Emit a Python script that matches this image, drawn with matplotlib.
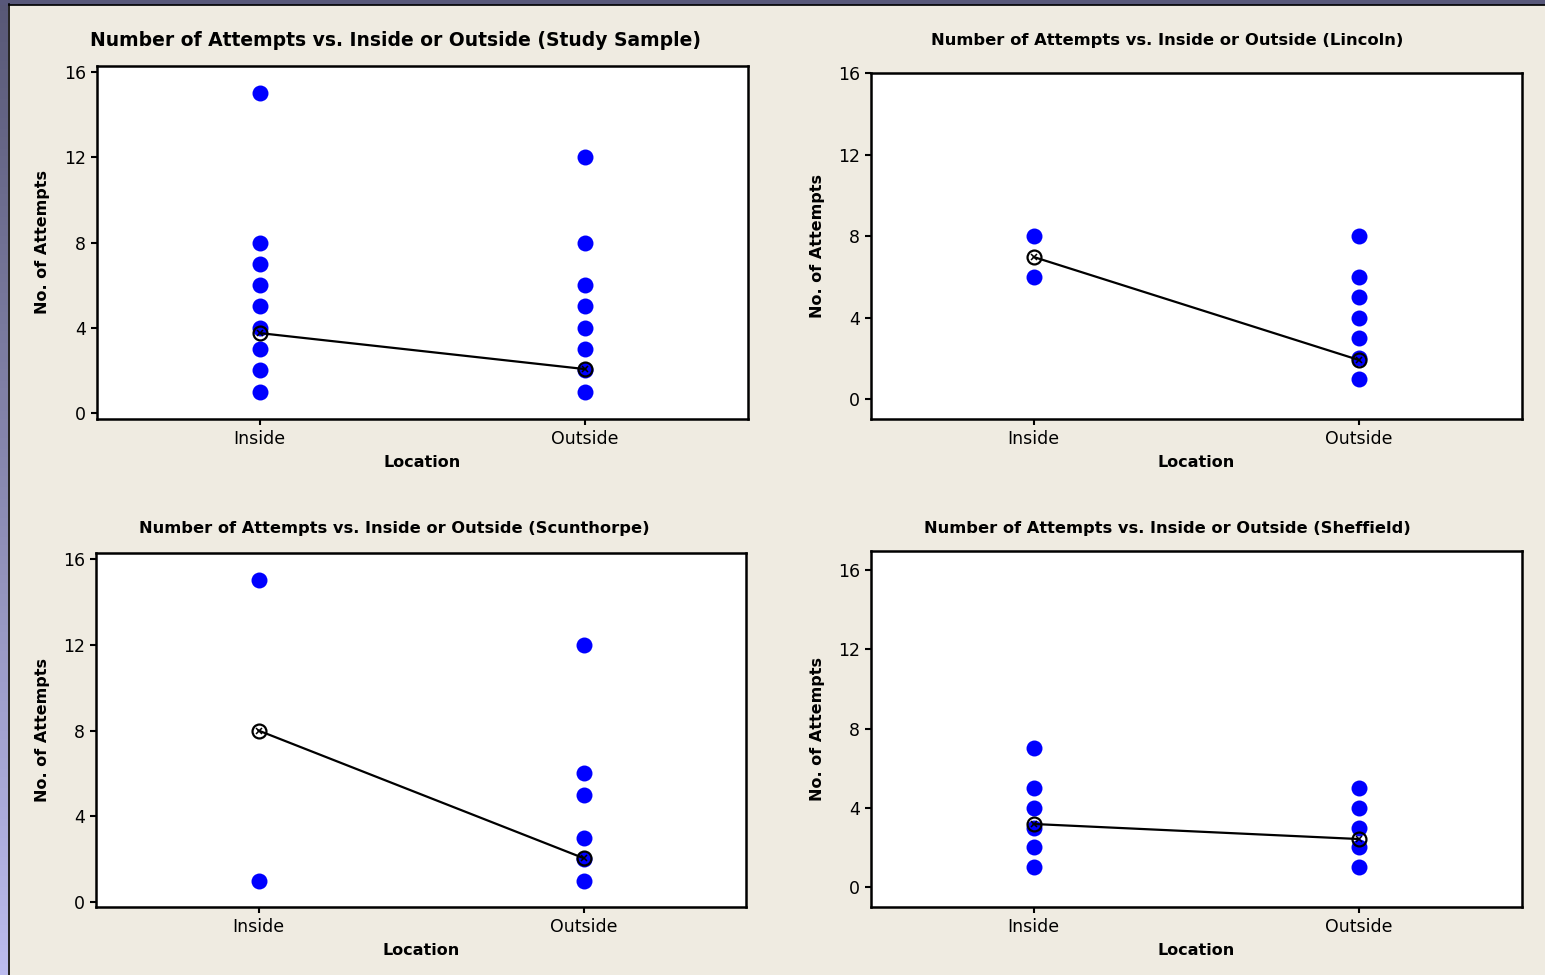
import numpy as np
import matplotlib
matplotlib.use("Agg")
import matplotlib.pyplot as plt
from matplotlib.lines import Line2D
from matplotlib.patches import Rectangle

# Location categories (x axis)
locations = ["Inside", "Outside"]

# Observed attempt values per panel (distinct values visible in the chart)
study_inside = [1, 2, 3, 4, 5, 6, 7, 8, 15]
study_outside = [1, 2, 3, 4, 5, 6, 8, 12]
lincoln_inside = [6, 8]
lincoln_outside = [1, 2, 3, 4, 5, 6, 8]
scun_inside = [1, 15]
scun_outside = [1, 2, 3, 5, 6, 12]
sheff_inside = [1, 2, 3, 4, 5, 7]
sheff_outside = [1, 2, 3, 4, 5]

# Group means
study_means = [3.75, 2.06]
lincoln_means = [6.97, 1.91]
scun_means = [8.0, 2.05]
sheff_means = [3.18, 2.42]

titles = [
    "Number of Attempts vs. Inside or Outside (Study Sample)",
    "Number of Attempts vs. Inside or Outside (Lincoln)",
    "Number of Attempts vs. Inside or Outside (Scunthorpe)",
    "Number of Attempts vs. Inside or Outside (Sheffield)",
]
yticks = [0, 4, 8, 12, 16]

W, H = 1545, 975
BG = "#EFEBE1"
fig = plt.figure(figsize=(W / 100, H / 100), dpi=100)
fig.patch.set_facecolor(BG)

# window frame: gradient strip on the left, dark strip on top
strip = fig.add_axes([0, 0, 8 / W, 1])
grad = np.linspace(0, 1, 256).reshape(-1, 1)
top_c = np.array([88, 88, 118]) / 255
bot_c = np.array([188, 188, 238]) / 255
img = top_c[None, None, :] * (1 - grad[:, :, None]) + bot_c[None, None, :] * grad[:, :, None]
strip.imshow(img, aspect="auto", extent=[0, 1, 0, 1])
strip.axis("off")
fig.add_artist(Rectangle((0, 1 - 4 / H), 1, 4 / H, transform=fig.transFigure,
                         color="#58587A", zorder=5))
fig.add_artist(Line2D([8.5 / W, 8.5 / W], [0, 1 - 4 / H], transform=fig.transFigure,
                      color="black", lw=1.2, zorder=6))
fig.add_artist(Line2D([8.5 / W, 1], [1 - 4.5 / H, 1 - 4.5 / H], transform=fig.transFigure,
                      color="black", lw=1.2, zorder=6))

# panel boxes in pixel coords: left, top, right, bottom, ymin, ymax
panels = [
    (97, 66, 748, 419, -0.28, 16.28),
    (871, 73, 1522, 419, -0.98, 16.0),
    (96, 553, 746, 907, -0.23, 16.28),
    (871, 551, 1522, 907, -1.01, 16.96),
]
data = [
    (study_inside, study_outside, study_means),
    (lincoln_inside, lincoln_outside, lincoln_means),
    (scun_inside, scun_outside, scun_means),
    (sheff_inside, sheff_outside, sheff_means),
]
# title centre (px) and font size
title_pos = [(395, 40, 13.5), (1167, 40, 11.8), (394, 528, 11.7), (1167, 528, 11.7)]

for (l, t, r, b, y0, y1), (ins, outs, means), title, (tx, ty, tfs) in zip(panels, data, titles, title_pos):
    ax = fig.add_axes([l / W, 1 - b / H, (r - l) / W, (b - t) / H])
    ax.set_facecolor("white")
    ax.plot([0] * len(ins), ins, "o", color="blue", ms=11.5, mew=0, zorder=2)
    ax.plot([1] * len(outs), outs, "o", color="blue", ms=11.5, mew=0, zorder=2)
    # mean connect line with circled-x symbols
    ax.plot([0, 1], means, color="black", lw=1.6, zorder=3)
    ax.plot([0, 1], means, "o", mfc="none", mec="black", ms=10, mew=1.6, zorder=4)
    ax.plot([0, 1], means, "x", color="black", ms=5, mew=1.1, zorder=4)

    ax.set_xlim(-0.5, 1.5)
    ax.set_ylim(y0, y1)
    ax.set_xticks([0, 1])
    ax.set_xticklabels(locations)
    ax.set_yticks(yticks)
    ax.tick_params(direction="out", length=4, width=1.5, labelsize=12.5, pad=4)
    for s in ax.spines.values():
        s.set_linewidth(1.8)

    ax.set_xlabel("Location", fontsize=11.5, fontweight="bold")
    ax.set_ylabel("No. of Attempts", fontsize=11.5, fontweight="bold")
    ax.xaxis.set_label_coords(0.5, -36 / (b - t))
    ylab_x = 50 if l < 400 else 825
    ax.yaxis.set_label_coords((ylab_x - l) / (r - l), 0.5)

    fig.text(tx / W, 1 - ty / H, title, ha="center", va="center",
             fontsize=tfs, fontweight="bold")

fig.savefig("out.png", dpi=100, facecolor=fig.get_facecolor())
